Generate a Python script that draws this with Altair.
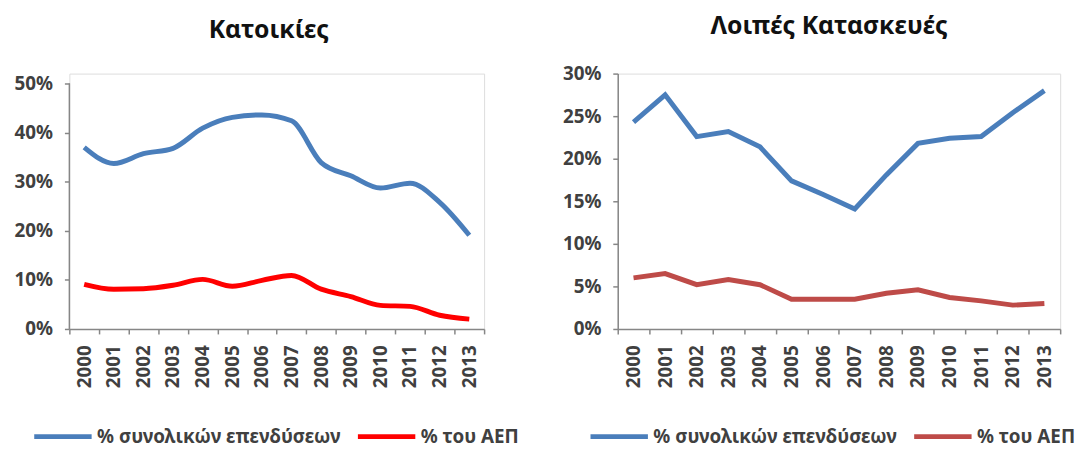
import altair as alt
import pandas as pd

years = [str(y) for y in range(2000, 2014)]

# Κατοικίες (% values)
left_total = [37.0, 33.7, 35.7, 36.8, 40.9, 43.1, 43.6, 42.4, 33.9, 31.2, 28.7, 29.7, 25.8, 19.1]
left_gdp = [9.1, 8.1, 8.2, 8.9, 10.1, 8.7, 9.9, 10.9, 8.1, 6.6, 4.8, 4.6, 2.8, 2.0]

# Λοιπές Κατασκευές (% values)
right_total = [24.3, 27.5, 22.6, 23.2, 21.4, 17.4, 15.8, 14.1, 18.1, 21.8, 22.4, 22.6, 25.4, 28.0]
right_gdp = [6.0, 6.5, 5.2, 5.8, 5.2, 3.5, 3.5, 3.5, 4.2, 4.6, 3.7, 3.3, 2.8, 3.0]

series_names = ["% συνολικών επενδύσεων", "% του ΑΕΠ"]
left_ticks = [0, 0.1, 0.2, 0.3, 0.4, 0.5]
right_ticks = [0, 0.05, 0.1, 0.15, 0.2, 0.25, 0.3]

FONT = "Noto Sans"
AX = "#868686"
LBL = "#404040"


def make_df(total, gdp):
    rows = []
    for y, v in zip(years, total):
        rows.append({"year": y, "value": v / 100, "series": series_names[0]})
    for y, v in zip(years, gdp):
        rows.append({"year": y, "value": v / 100, "series": series_names[1]})
    return pd.DataFrame(rows)


def x_enc():
    return alt.X(
        "year:N",
        sort=years,
        scale=alt.Scale(type="band", paddingInner=0, paddingOuter=0),
        axis=alt.Axis(
            title=None, labelAngle=270, tickBand="extent", grid=False,
            domainColor=AX, tickColor=AX, domainWidth=1.5, tickWidth=1.5,
            tickSize=5, labelPadding=11, labelFont=FONT, labelFontSize=19,
            labelFontWeight="bold", labelColor=LBL,
        ),
    )


def y_axis(values, domain=True):
    return alt.Axis(
        title=None, values=values, format=".0%", grid=False, domain=domain,
        domainColor=AX, tickColor=AX, domainWidth=1.5, tickWidth=1.5,
        tickSize=5, labelPadding=12, labelFont=FONT, labelFontSize=19,
        labelFontWeight="bold", labelColor=LBL,
    )


def legend(x, y):
    return alt.Legend(
        title=None, orient="none", legendX=x, legendY=y, direction="horizontal",
        symbolType="stroke", symbolSize=3364, symbolStrokeWidth=5,
        labelFont=FONT, labelFontSize=19, labelFontWeight="bold", labelColor=LBL,
        labelLimit=400, labelOffset=3, columnPadding=6,
    )


# Left chart
left_df = make_df(left_total, left_gdp)
left_domain_max = 0.5 * 258 / 248
left_axis_df = pd.DataFrame({"y0": [left_ticks[0]], "y1": [left_ticks[-1]]})

left_lines = alt.Chart(left_df).mark_line(strokeWidth=5, interpolate="monotone").encode(
    x=x_enc(),
    y=alt.Y("value:Q", scale=alt.Scale(domain=[0, left_domain_max], nice=False),
            axis=y_axis(left_ticks, domain=False)),
    color=alt.Color("series:N", sort=series_names,
                    scale=alt.Scale(domain=series_names, range=["#4A7EBB", "#FF0000"]),
                    legend=legend(-38, 335)),
)
left_axis_line = alt.Chart(left_axis_df).mark_rule(color=AX, strokeWidth=1.5).encode(
    x=alt.value(0), y="y0:Q", y2="y1:Q",
)
left = alt.layer(left_axis_line, left_lines).properties(
    width=419, height=258,
    title=alt.TitleParams("Κατοικίες", font=FONT, fontSize=25, fontWeight="bold",
                          color="#111111", anchor="middle", frame="group", dx=-8, offset=31),
)

# Right chart
right_df = make_df(right_total, right_gdp)
right = alt.Chart(right_df).mark_line(strokeWidth=5).encode(
    x=x_enc(),
    y=alt.Y("value:Q", scale=alt.Scale(domain=[0, 0.3], nice=False),
            axis=y_axis(right_ticks)),
    color=alt.Color("series:N", sort=series_names,
                    scale=alt.Scale(domain=series_names, range=["#4A7EBB", "#BE4B48"]),
                    legend=legend(-30, 335)),
).properties(
    width=447, height=258,
    title=alt.TitleParams("Λοιπές Κατασκευές", font=FONT, fontSize=25, fontWeight="bold",
                          color="#111111", anchor="middle", frame="group", dx=-10, offset=26),
)

chart = alt.hconcat(left, right, spacing=135, bounds="flush").resolve_scale(
    color="independent", x="independent", y="independent"
).resolve_legend(color="independent").properties(
    padding={"left": 5, "top": 3, "right": 0, "bottom": 0}
).configure_view(strokeWidth=0, stroke="transparent").configure(background="white")

chart.save("out.html", embed_options={"renderer": "svg", "actions": False})
